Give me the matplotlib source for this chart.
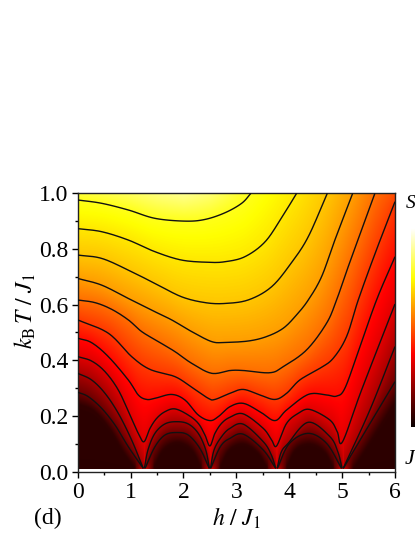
import numpy as np
import matplotlib
matplotlib.use("Agg")
import matplotlib.pyplot as plt
from matplotlib.ticker import MultipleLocator

plt.rcParams["font.family"] = ["Liberation Serif", "DejaVu Serif"]
plt.rcParams["mathtext.fontset"] = "stix"

W, H = 415, 537

# contour traces: each one is a list of (h, T) pieces
C1 = [[(0, .976), (.453, .964), (.957, .940), (1.461, .910), (2.03, .900), (2.406, .906), (2.784, .930), (3.10, .964), (3.276, 1.0)]]
C2 = [[(0, .873), (.453, .862), (.957, .832), (1.461, .790), (1.965, .760), (2.47, .752), (2.784, .754), (3.16, .772), (3.54, .825), (3.855, .912), (4.14, 1.0)]]
C3 = [[(0, .778), (.453, .766), (.957, .724), (1.461, .676), (1.965, .628), (2.41, .607), (2.784, .604), (3.23, .617), (3.666, .664), (4.04, .750), (4.36, .844), (4.72, 1.0)]]
C4 = [[(0, .694), (.453, .670), (.957, .622), (1.398, .580), (1.776, .545), (2.154, .503), (2.532, .467), (2.784, .464), (3.225, .469), (3.572, .485), (3.887, .515), (4.139, .563), (4.36, .6165), (4.611, .700), (4.863, .832), (5.2, 1.0)]]
C5 = [[(0, .6165), (.327, .607), (.642, .583), (.957, .545), (1.209, .503), (1.524, .467), (1.839, .431), (2.154, .389), (2.532, .353), (2.879, .363), (3.13, .363), (3.635, .355), (3.887, .377), (4.328, .437), (4.706, .533), (4.895, .6165), (5.115, .736), (5.367, .868), (5.62, 1.0)]]
C6 = [[(0, .545), (.579, .497), (1.02, .413), (1.367, .367), (1.839, .341), (2.154, .303), (2.469, .263), (2.595, .259), (2.879, .281), (3.131, .295), (3.446, .275), (3.73, .259), (3.95, .281), (4.2, .329), (4.58, .371), (4.832, .407), (5.084, .485), (5.305, .6165), (5.62, .782), (6, .97)]]
C7 = [[(0, .479), (.264, .463), (.579, .413), (.957, .329), (1.146, .275), (1.303, .259), (1.461, .263), (1.776, .277), (2.028, .257), (2.28, .203), (2.5, .183), (2.658, .197), (2.879, .233), (3.131, .245), (3.446, .215), (3.73, .183), (3.95, .221), (4.36, .277), (4.706, .275), (4.895, .271), (5.052, .299), (5.305, .431), (5.651, .6165), (6, .772)]]
C8 = [[(0, .413), (.264, .397), (.516, .359), (.768, .293), (.988, .203), (1.146, .137), (1.253, .107), (1.367, .155), (1.493, .191), (1.65, .215), (1.84, .225), (2.09, .203), (2.28, .173), (2.406, .131), (2.5, .092), (2.595, .137), (2.72, .173), (2.879, .195), (3.131, .207), (3.509, .155), (3.667, .113), (3.761, .092), (3.95, .173), (4.17, .209), (4.391, .223), (4.769, .185), (4.908, .143), (5.008, .107), (5.368, .293), (6, .602)]]
C9 = [
    [(0, .353), (.263, .329), (.516, .281), (.768, .209), (1.02, .113), (1.24, .011)],
    [(1.26, .011), (1.33, .078), (1.46, .137), (1.65, .171), (1.87, .179), (2.09, .171), (2.28, .137), (2.42, .078), (2.49, .011)],
    [(2.51, .011), (2.58, .078), (2.72, .125), (2.879, .155), (3.131, .170), (3.509, .107), (3.66, .06), (3.745, .011)],
    [(3.77, .011), (3.85, .07), (3.98, .1015), (4.36, .177), (4.77, .125), (4.92, .07), (5.0, .011)],
    [(5.02, .011), (5.525, .221), (6, .449)],
]
C10 = [
    [(0, .285), (.2, .269), (.453, .227), (.705, .167), (.957, .089), (1.24, .011)],
    [(1.272, .011), (1.461, .089), (1.65, .131), (1.871, .140), (2.09, .131), (2.31, .083), (2.488, .011)],
    [(2.512, .011), (2.7, .09), (2.879, .119), (3.131, .134), (3.509, .077), (3.745, .011)],
    [(3.774, .011), (4.0, .1), (4.36, .137), (4.706, .101), (4.99, .011)],
    [(5.02, .011), (6, .323)],
]
CONTOURS = [C1, C2, C3, C4, C5, C6, C7, C8, C9, C10]
LEVELS = [.77, .71, .66, .60, .53, .45, .38, .32, .24, .15]

# where the shading has fallen to the dark floor, no line drawn here
DARK = [
    [(0, .24), (.3, .215), (.6, .15), (.85, .07), (1.08, .008)],
    [(1.42, .008), (1.6, .075), (1.87, .102), (2.15, .075), (2.33, .008)],
    [(2.67, .008), (2.85, .075), (3.13, .096), (3.4, .065), (3.58, .008)],
    [(3.93, .008), (4.1, .075), (4.37, .096), (4.65, .07), (4.83, .008)],
    [(5.2, .008), (6, .25)],
]
DARK_LEVEL = .055

# shading along the bottom and top edges
BOTTOM_H = [0, 1.05, 1.25, 1.45, 2.3, 2.5, 2.7, 3.55, 3.75, 3.95, 4.8, 5.0, 5.2, 6]
BOTTOM_S = [.05, .05, .33, .05, .05, .33, .05, .05, .33, .05, .05, .33, .05, .05]
TOP_H = [0, 1, 1.5, 2, 2.5, 3, 3.276, 4.14, 4.72, 5.2, 5.62, 6]
TOP_S = [.80, .84, .87, .89, .86, .80, .77, .71, .66, .60, .53, .48]

X_TICKS = [0, 1, 2, 3, 4, 5, 6]
Y_TICKS = [0.0, 0.2, 0.4, 0.6, 0.8, 1.0]
T_BOTTOM = .008


def smooth(points, n=14):
    # catmull-rom through the read points, only for drawing
    p = np.array(points, float)
    if len(p) < 3:
        return p
    q = np.vstack([2 * p[0] - p[1], p, 2 * p[-1] - p[-2]])
    out = [p[:1]]
    t = np.linspace(0, 1, n + 1)[1:, None]
    for i in range(1, len(q) - 2):
        a, b, c, d = q[i - 1], q[i], q[i + 1], q[i + 2]
        out.append(.5 * (2 * b + (c - a) * t + (2 * a - 5 * b + 4 * c - d) * t ** 2 + (3 * b - a - 3 * c + d) * t ** 3))
    s = np.vstack(out)
    s[:, 1] = np.clip(s[:, 1], T_BOTTOM, 1)
    return s


def shade_field(curves, nh=640, nt=560):
    # fill each column by running up through the curves that cross it
    hs = np.linspace(0, 6, nh)
    ts = np.linspace(T_BOTTOM, 1, nt)
    field = np.zeros((nt, nh))
    for j, h in enumerate(hs):
        col_t = [T_BOTTOM, 1.0]
        col_s = [np.interp(h, BOTTOM_H, BOTTOM_S), np.interp(h, TOP_H, TOP_S)]
        for s, level in curves:
            if s[0, 0] <= h <= s[-1, 0]:
                col_t.append(np.interp(h, s[:, 0], s[:, 1]))
                col_s.append(level)
        order = np.argsort(col_t)
        field[:, j] = np.interp(ts, np.array(col_t)[order], np.array(col_s)[order])
    return field


fig = plt.figure(figsize=(W / 100, H / 100), dpi=100)
ax = fig.add_axes([77.7 / W, 1 - 471.5 / H, (395 - 77.7) / W, (471.5 - 193.3) / H])

lines = []
curves = []
for pieces, level in zip(CONTOURS, LEVELS):
    for piece in pieces:
        s = smooth(piece)
        lines.append(s)
        curves.append((s, level))
for piece in DARK:
    curves.append((smooth(piece), DARK_LEVEL))

ax.imshow(shade_field(curves), cmap="hot", vmin=0, vmax=1, origin="lower", aspect="auto",
          extent=(0, 6, T_BOTTOM, 1), interpolation="bilinear")
for s in lines:
    ax.plot(s[:, 0], s[:, 1], color="#111111", lw=1.0, solid_capstyle="butt", zorder=3)

ax.set_xlim(0, 6)
ax.set_ylim(0, 1)
ax.set_xticks(X_TICKS)
ax.set_yticks(Y_TICKS)
ax.set_yticklabels(["%.1f" % v for v in Y_TICKS])
ax.xaxis.set_minor_locator(MultipleLocator(.5))
ax.yaxis.set_minor_locator(MultipleLocator(.1))
ax.tick_params(which="major", direction="out", length=4, width=1.0, labelsize=17)
ax.tick_params(which="minor", direction="out", length=2.2, width=1.0)
ax.tick_params(axis="x", which="major", pad=3.5)
ax.tick_params(axis="y", which="major", pad=2.7)
for sp in ax.spines.values():
    sp.set_linewidth(1.0)
    sp.set_color("#222222")

fig.text(236 / W, 1 - 518 / H, r"$h\,\,/\,\,J_1$", fontsize=17, ha="center", va="center")
fig.text(25 / W, 1 - 311 / H, r"$k_{\mathrm{B}}\,T\,\,/\,\,J_1$", fontsize=17, rotation=90, ha="center", va="center")
fig.text(48 / W, 1 - 518 / H, "(d)", fontsize=17, ha="center", va="center")

# colour bar, runs off the right edge of the figure as in the source
cax = fig.add_axes([411 / W, 1 - 427 / H, 30 / W, 199 / H])
cax.imshow(np.linspace(1, 0, 256)[:, None], cmap="hot", vmin=0, vmax=1, aspect="auto")
cax.axis("off")
fig.text(405.5 / W, 1 - 204 / H, "S", fontsize=14, style="italic", ha="left", va="center")
fig.text(405 / W, 1 - 460 / H, "J", fontsize=16, style="italic", ha="left", va="center")

fig.savefig("out.png", dpi=100)
